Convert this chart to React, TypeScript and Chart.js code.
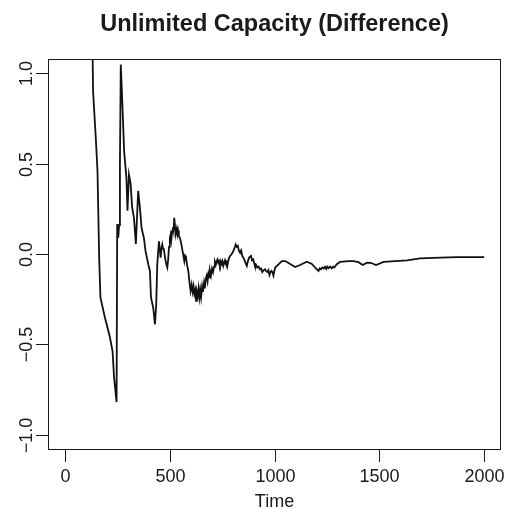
import React, { useEffect, useRef } from "react";
import { Chart, registerables } from "chart.js";

Chart.register(...registerables);

const titleText = "Unlimited Capacity (Difference)";
const xAxisTitle = "Time";
const xTickValues = [0, 500, 1000, 1500, 2000];
const yTickValues = [-1, -0.5, 0, 0.5, 1];

const times = [
  128, 135, 148, 156, 164, 170, 191, 215, 228, 235,
  247, 250, 255, 259, 263, 267, 274, 283, 294, 299,
  306, 314, 321, 330, 339, 350, 358, 366, 377, 385,
  398, 406, 411, 422, 430, 436, 441, 449, 453, 457,
  461, 465, 469, 473, 477, 481, 485, 489, 493, 497,
  501, 505, 508, 512, 516, 519, 522, 526, 530, 534,
  537, 540, 544, 549, 555, 561, 566, 570, 574, 578,
  583, 589, 594, 600, 605, 610, 614, 618, 622, 626,
  630, 634, 638, 642, 646, 650, 655, 659, 664, 668,
  672, 677, 681, 685, 689, 692, 697, 702, 707, 712,
  716, 720, 724, 728, 732, 736, 740, 744, 748, 752,
  756, 760, 764, 768, 772, 775, 780, 784, 788, 796,
  804, 810, 815, 820, 825, 830, 836, 841, 846, 851,
  856, 862, 868, 873, 879, 884, 888, 893, 898, 903,
  907, 912, 918, 924, 931, 936, 942, 948, 955, 960,
  966, 971, 976, 981, 986, 990, 995, 1000, 1003, 1019,
  1035, 1051, 1067, 1098, 1122, 1154, 1178, 1194, 1210, 1216,
  1222, 1228, 1235, 1241, 1247, 1252, 1258, 1265, 1273, 1279,
  1285, 1291, 1297, 1313, 1353, 1377, 1400, 1421, 1441, 1462,
  1484, 1520, 1632, 1695, 1791, 1870, 2000,
];

const values = [
  1.5, 0.9, 0.64, 0.46, -0.02, -0.24, -0.35, -0.46, -0.54, -0.685,
  -0.82, 0.166, 0.09, 0.16, 0.5, 1.05, 0.85, 0.57, 0.42, 0.24,
  0.44, 0.39, 0.26, 0.2, 0.055, 0.35, 0.26, 0.146, 0.09, 0.017,
  -0.057, -0.094, -0.24, -0.3, -0.39, -0.28, -0.057, 0.07, 0.03, -0.02,
  0.03, 0.053, 0.03, 0.02, -0.01, -0.04, -0.06, -0.075, -0.03, 0.04,
  0.09, 0.11, 0.08, 0.127, 0.15, 0.13, 0.2, 0.15, 0.118, 0.14,
  0.11, 0.13, 0.1, 0.09, 0.06, 0.02, -0.01, -0.04, -0.01, -0.02,
  -0.06, -0.094, -0.15, -0.205, -0.17, -0.21, -0.18, -0.22, -0.2, -0.26,
  -0.21, -0.23, -0.19, -0.24, -0.2, -0.24, -0.18, -0.21, -0.16, -0.19,
  -0.14, -0.12, -0.15, -0.11, -0.13, -0.094, -0.12, -0.08, -0.1, -0.07,
  -0.045, -0.06, -0.04, -0.03, -0.05, -0.04, -0.06, -0.04, -0.055, -0.04,
  -0.066, -0.05, -0.035, -0.05, -0.045, -0.066, -0.035, -0.02, -0.011, 0.0,
  0.017, 0.035, 0.053, 0.04, 0.045, 0.02, 0.007, 0.02, -0.01, -0.02,
  -0.03, -0.05, -0.066, -0.04, -0.02, -0.015, -0.011, -0.035, -0.03, -0.05,
  -0.066, -0.06, -0.075, -0.07, -0.085, -0.08, -0.1, -0.09, -0.085, -0.095,
  -0.1, -0.09, -0.116, -0.1, -0.094, -0.1, -0.12, -0.09, -0.075, -0.057,
  -0.039, -0.039, -0.05, -0.072, -0.061, -0.043, -0.055, -0.075, -0.094, -0.08,
  -0.085, -0.075, -0.08, -0.07, -0.083, -0.07, -0.078, -0.07, -0.08, -0.07,
  -0.075, -0.065, -0.057, -0.044, -0.039, -0.039, -0.045, -0.061, -0.048, -0.05,
  -0.061, -0.044, -0.035, -0.024, -0.02, -0.017, -0.017,
];

const FONT = '"Liberation Sans", Arial, Helvetica, sans-serif';
const INK = "#1a1a1a";

const rAxesPlugin = {
  id: "rAxes",
  afterDraw(chart: any) {
    const { ctx, chartArea } = chart;
    const xs = chart.scales.x;
    const ys = chart.scales.y;
    const { left, right, top, bottom } = chartArea;
    ctx.save();
    ctx.strokeStyle = INK;
    ctx.fillStyle = INK;
    ctx.lineWidth = 1;
    ctx.strokeRect(left + 0.5, top + 0.5, right - left - 1, bottom - top);
    ctx.font = `18px ${FONT}`;
    ctx.textAlign = "center";
    ctx.textBaseline = "alphabetic";
    for (const v of xTickValues) {
      const px = Math.round(xs.getPixelForValue(v)) + 0.5;
      ctx.beginPath();
      ctx.moveTo(px, bottom + 0.5);
      ctx.lineTo(px, bottom + 13);
      ctx.stroke();
      ctx.fillText(String(v), px, 481.5);
    }
    ctx.fillText(xAxisTitle, (left + right) / 2, 507);
    for (const v of yTickValues) {
      const py = Math.round(ys.getPixelForValue(v)) + 0.5;
      ctx.beginPath();
      ctx.moveTo(left + 0.5, py);
      ctx.lineTo(left - 12, py);
      ctx.stroke();
      const label = (v < 0 ? "\u2212" : "") + Math.abs(v).toFixed(1);
      ctx.save();
      ctx.translate(32, py);
      ctx.rotate(-Math.PI / 2);
      ctx.fillText(label, 0, 0);
      ctx.restore();
    }
    ctx.font = `bold 23.5px ${FONT}`;
    ctx.fillText(titleText, (left + right) / 2, 31);
    ctx.restore();
  },
};

export default function App() {
  const ref = useRef<HTMLCanvasElement | null>(null);
  useEffect(() => {
    if (!ref.current) return;
    const chart = new Chart(ref.current, {
      type: "line",
      data: {
        datasets: [
          {
            data: times.map((t, i) => ({ x: t, y: values[i] })),
            borderColor: "#111",
            borderWidth: 1.8,
            pointRadius: 0,
            tension: 0,
            fill: false,
            clip: 0,
          } as any,
        ],
      },
      options: {
        animation: false,
        responsive: false,
        devicePixelRatio: 1,
        layout: { padding: { left: 48, top: 59, right: 10, bottom: 60 } },
        scales: {
          x: { type: "linear", min: -80, max: 2080, display: false },
          y: { type: "linear", min: -1.08, max: 1.08, display: false },
        },
        plugins: { legend: { display: false }, tooltip: { enabled: false }, title: { display: false } },
      },
      plugins: [rAxesPlugin],
    });
    return () => chart.destroy();
  }, []);
  return (
    <div style={{ position: "absolute", left: 0, top: 0, width: 511, height: 509, background: "#fff" }}>
      <canvas ref={ref} width={511} height={509} />
    </div>
  );
}
